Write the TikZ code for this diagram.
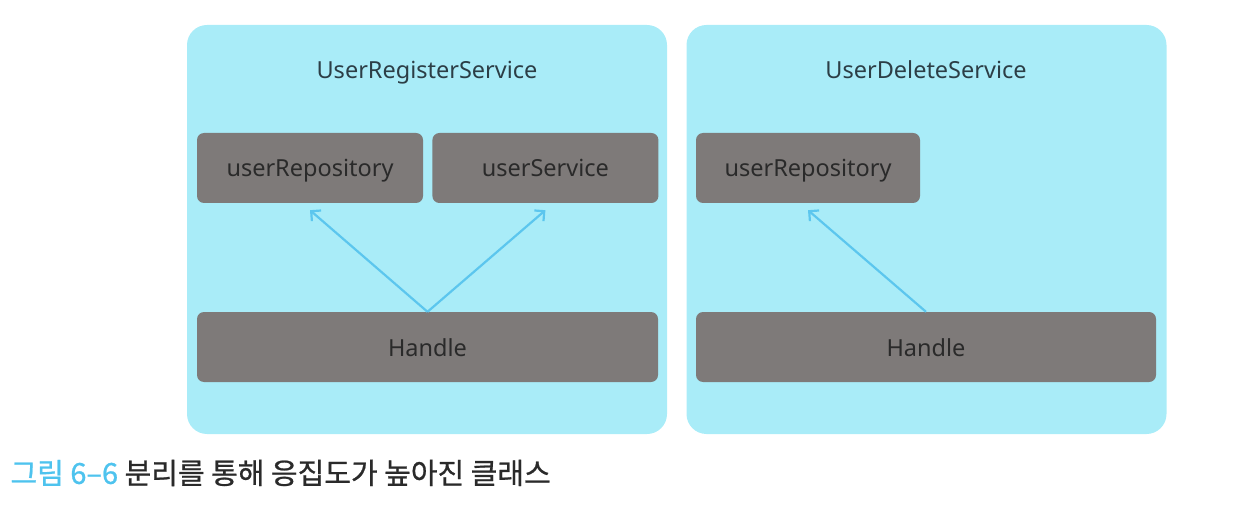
\documentclass[tikz,border=0pt]{standalone}
\usepackage{fontspec}
\setmainfont{Noto Sans}
\newfontfamily\krfont[FakeBold=0.8]{Noto Sans CJK KR}
\usetikzlibrary{positioning, arrows.meta}
\usepackage{xcolor}
\definecolor{PanelCyan}{HTML}{A9ECF8}
\definecolor{BoxGray}{HTML}{7E7A79}
\definecolor{ArrowBlue}{HTML}{5CC6EE}
\definecolor{CapBlue}{HTML}{4EC3EE}
\definecolor{InkDark}{HTML}{2A2A2A}
\definecolor{TitleInk}{HTML}{2C3E46}

\begin{document}
\begin{tikzpicture}[x=1pt, y=-1pt, node distance=9pt]
    \tikzstyle{panel} = [rectangle, fill=PanelCyan, rounded corners=20pt, minimum width=480pt, minimum height=409pt, inner sep=0pt]
    \tikzstyle{comp} = [rectangle, fill=BoxGray, text=InkDark, rounded corners=7pt, minimum height=70pt, inner sep=0pt, text height=19pt, text depth=1pt, font=\fontsize{23.5}{28}\selectfont]
    \tikzstyle{title} = [text=TitleInk, anchor=base, font=\fontsize{23.5}{28}\selectfont]
    \tikzstyle{dep} = [ArrowBlue, line width=2.2pt, -{Straight Barb[length=7pt, width=14pt]}]

    \useasboundingbox (0,0) rectangle (1238,510);

    % left: register service
    \node [panel] (regpanel) at (427,229.5) {};
    \node [title] (regtitle) at (427,79) {UserRegisterService};
    \node [comp, minimum width=226pt] (regrepo) at (310,168) {userRepository};
    \node [comp, minimum width=226pt, right=of regrepo] (regsvc) {userService};
    \node [comp, minimum width=461pt] (reghandle) at (427.5,347) {Handle};

    \draw [dep] (reghandle.north) -- ([yshift=-7pt]regrepo.south);
    \draw [dep] (reghandle.north) -- ([yshift=-7pt]regsvc.south);

    % right: delete service
    \node [panel] (delpanel) at (926.5,229.5) {};
    \node [title] (deltitle) at (926,79) {UserDeleteService};
    \node [comp, minimum width=224pt] (delrepo) at (808,168) {userRepository};
    \node [comp, minimum width=460pt] (delhandle) at (926,347) {Handle};

    \draw [dep] (delhandle.north) -- ([yshift=-7pt]delrepo.south);

    % caption
    \node [anchor=west, text=InkDark, font=\krfont\fontsize{29}{34}\selectfont] (caption) at (7,473)
        {\textcolor{CapBlue}{그림 6–6} 분리를 통해 응집도가 높아진 클래스};
\end{tikzpicture}
\end{document}
